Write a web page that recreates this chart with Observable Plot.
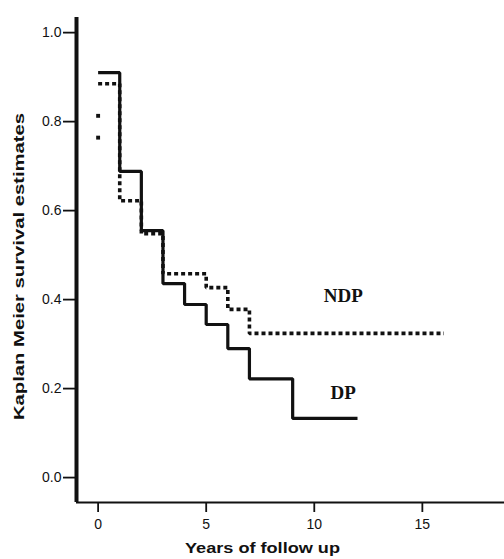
<!DOCTYPE html>
<html>
<head>
<meta charset="utf-8">
<script src="https://cdn.jsdelivr.net/npm/d3@7"></script>
<script src="https://cdn.jsdelivr.net/npm/@observablehq/plot@0.6"></script>
<style>
  html, body { margin: 0; padding: 0; background: #fff; }
  #chart svg { display: block; }
</style>
</head>
<body>
<div id="chart"></div>
<script>
// Kaplan-Meier step estimates (time in years, survival)
const dpTimes = [0, 1, 2, 3, 4, 5, 6, 7, 9, 12];
const dpSurv  = [0.910, 0.688, 0.555, 0.436, 0.389, 0.344, 0.290, 0.222, 0.133, 0.133];

const ndpTimes = [0, 1, 2, 3, 5, 6, 7, 16];
const ndpSurv  = [0.885, 0.622, 0.548, 0.458, 0.427, 0.378, 0.324, 0.324];

// isolated marks at t = 0 on the NDP curve
const ndpDotTimes = [0, 0];
const ndpDotSurv  = [0.813, 0.764];

const xTicks = [0, 5, 10, 15];
const yTicks = [0.0, 0.2, 0.4, 0.6, 0.8, 1.0];

const groupLabels = ["NDP", "DP"];
const labelX = [11.34, 11.34];
const labelY = [0.409, 0.191];

const xTitle = "Years of follow up";
const yTitle = "Kaplan Meier survival estimates";

const dp = dpTimes.map((t, i) => ({t, s: dpSurv[i]}));
const ndp = ndpTimes.map((t, i) => ({t, s: ndpSurv[i]}));
const ndpDots = ndpDotTimes.map((t, i) => ({t, s: ndpDotSurv[i]}));
const labels = groupLabels.map((name, i) => ({name, x: labelX[i], y: labelY[i]}));

const xDomain = [-1, 18.8];
const yDomain = [-0.056, 1.034];

const chart = Plot.plot({
  width: 504,
  height: 559,
  marginLeft: 76,
  marginRight: 0,
  marginTop: 17,
  marginBottom: 57,
  style: {fontFamily: "'Liberation Sans', Arial, sans-serif", background: "#fff", color: "#111"},
  x: {domain: xDomain},
  y: {domain: yDomain},
  marks: [
    Plot.axisY(yTicks, {tickSize: 13, tickPadding: 2, fontSize: 14, tickFormat: d3.format(".1f"), label: null, strokeWidth: 1.8}),
    Plot.axisX(xTicks, {tickSize: 10, tickPadding: 7, fontSize: 14, label: null, strokeWidth: 1.8}),
    Plot.ruleX([xDomain[0]], {strokeWidth: 4, stroke: "#111"}),
    Plot.ruleY([yDomain[0]], {strokeWidth: 2, stroke: "#111"}),
    Plot.line(ndp, {x: "t", y: "s", curve: "step-after", stroke: "#111", strokeWidth: 3.6, strokeDasharray: "4 3", strokeLinecap: "butt", strokeLinejoin: "miter"}),
    Plot.dot(ndpDots, {x: "t", y: "s", symbol: "square", r: 2.2, fill: "#111", stroke: "none"}),
    Plot.line(dp, {x: "t", y: "s", curve: "step-after", stroke: "#111", strokeWidth: 3.2, strokeLinecap: "butt", strokeLinejoin: "miter"}),
    Plot.text(labels, {x: "x", y: "y", text: "name", fontFamily: "'Liberation Serif', 'Times New Roman', serif", fontWeight: "bold", fontSize: 19, fill: "#111"}),
    Plot.text([yTitle], {text: d => d, frameAnchor: "left", textAnchor: "start", dx: -57, dy: 160, rotate: -90, fontWeight: "bold", fontSize: 15, fill: "#111"}),
    Plot.text([xTitle], {text: d => d, frameAnchor: "bottom", dx: -28, dy: 50, fontWeight: "bold", fontSize: 15, fill: "#111"})
  ]
});
// stretch the two axis titles to the lengths they have in the reference
chart.querySelectorAll("text").forEach(t => {
  if (t.textContent === yTitle) { t.setAttribute("textLength", 307); t.setAttribute("lengthAdjust", "spacingAndGlyphs"); }
  if (t.textContent === xTitle) { t.setAttribute("textLength", 155); t.setAttribute("lengthAdjust", "spacingAndGlyphs"); }
});
document.getElementById("chart").appendChild(chart);
</script>
</body>
</html>
